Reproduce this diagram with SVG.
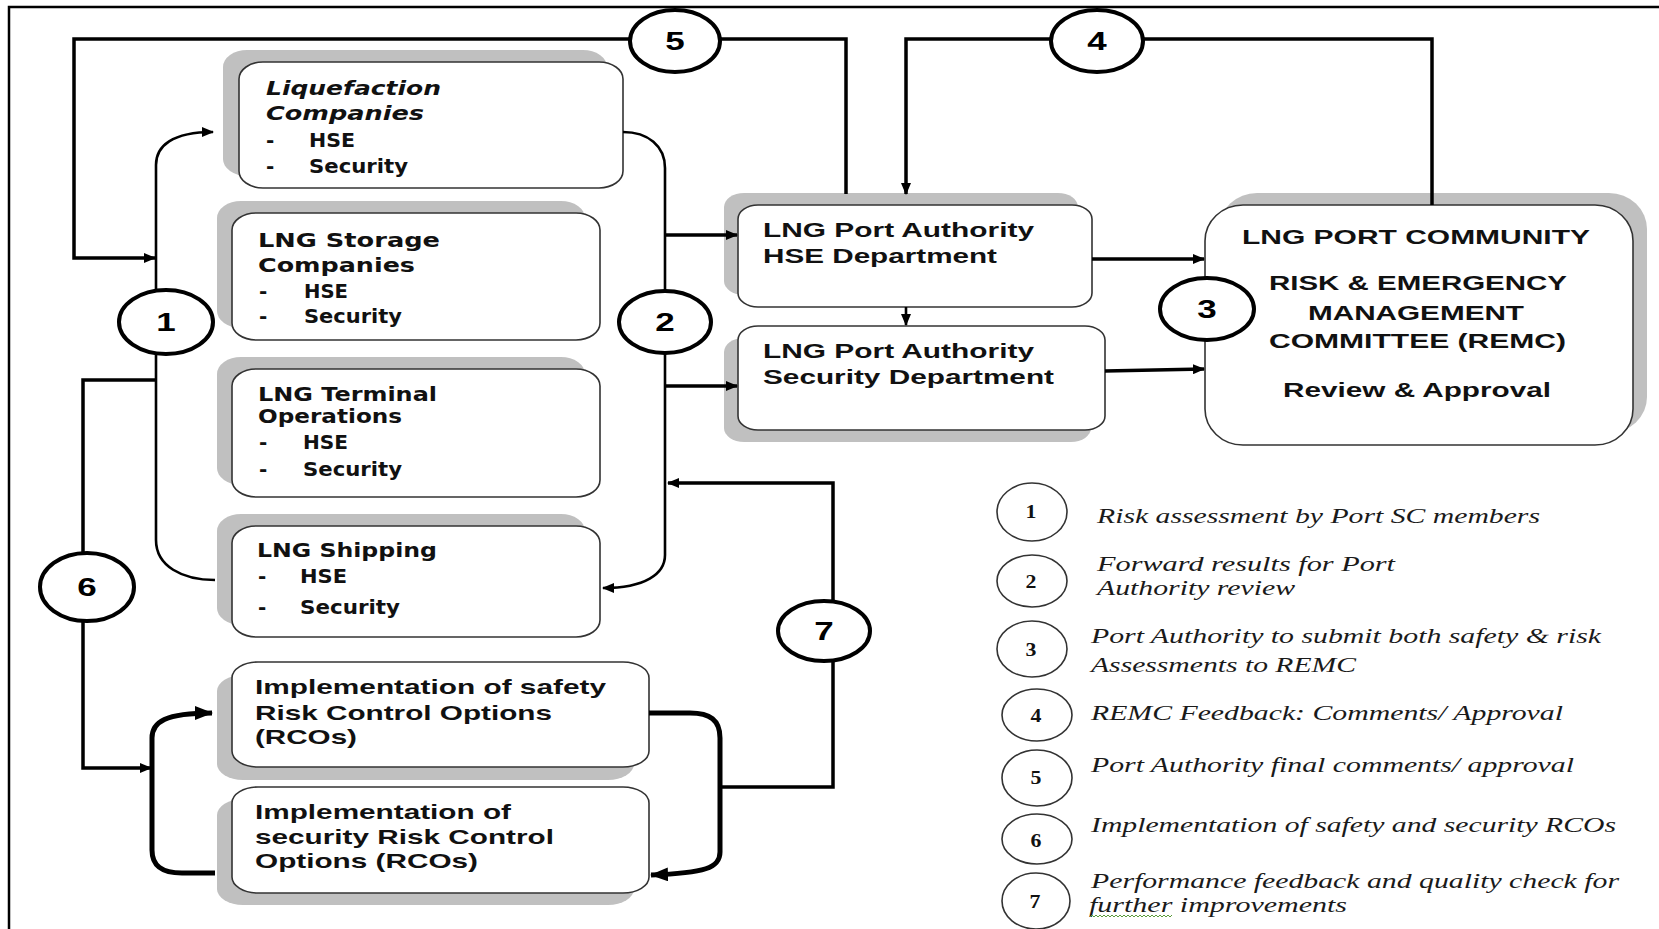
<svg xmlns="http://www.w3.org/2000/svg" width="1659" height="929" viewBox="0 0 1659 929">
  <style>
    .shadow { fill: #c0c0c0; }
    .box { fill: #ffffff; stroke: #333333; stroke-width: 1.6; }
    .verd { font-family: "DejaVu Sans", Verdana, sans-serif; font-weight: bold; font-size: 20px; fill: #111; }
    .verd-i { font-style: italic; }
    .ari { font-family: "Liberation Sans", Arial, sans-serif; font-weight: bold; font-size: 21px; fill: #111; }
    .num { font-family: "Liberation Sans", Arial, sans-serif; font-weight: bold; font-size: 25px; fill: #000; text-anchor: middle; }
    .badge { fill: #ffffff; stroke: #000; stroke-width: 4; }
    .line { fill: none; stroke: #000; stroke-width: 3.5; }
    .thin { fill: none; stroke: #000; stroke-width: 2.6; }
    .thick { fill: none; stroke: #000; stroke-width: 5; }
    .key-ring { fill: #ffffff; stroke: #333; stroke-width: 1.6; }
    .key-num { font-family: "Liberation Serif", "Times New Roman", serif; font-weight: bold; font-size: 19px; fill: #111; text-anchor: middle; }
    .key-txt { font-family: "Liberation Serif", "Times New Roman", serif; font-style: italic; font-size: 22px; fill: #1a1a1a; }
  </style>
  <defs>
    <marker id="ah" viewBox="0 0 12 10" refX="11" refY="5" markerWidth="12" markerHeight="10" markerUnits="userSpaceOnUse" orient="auto">
      <path d="M0,0 L12,5 L0,10 z" fill="#000"/>
    </marker>
    <marker id="ahBig" viewBox="0 0 18 14" refX="17" refY="7" markerWidth="18" markerHeight="14" markerUnits="userSpaceOnUse" orient="auto">
      <path d="M0,0 L18,7 L0,14 z" fill="#000"/>
    </marker>
  </defs>

  <rect width="1659" height="929" fill="#ffffff"/>
  <!-- page frame (top and left edges) -->
  <path d="M9,929 V7 H1659" fill="none" stroke="#000" stroke-width="2.5"/>

  <!-- stakeholder boxes -->
  <g id="liquefaction">
    <rect class="shadow" x="223" y="50" width="384" height="126" rx="24" ry="17"/>
    <rect class="box" x="239" y="62" width="384" height="126" rx="24" ry="17"/>
    <text class="verd verd-i" x="266" y="95" textLength="175" lengthAdjust="spacingAndGlyphs">Liquefaction</text>
    <text class="verd verd-i" x="266" y="120" textLength="158" lengthAdjust="spacingAndGlyphs">Companies</text>
    <text class="verd" x="266" y="147">-</text>
    <text class="verd" x="309" y="147" textLength="46" lengthAdjust="spacingAndGlyphs">HSE</text>
    <text class="verd" x="266" y="173">-</text>
    <text class="verd" x="309" y="173" textLength="99" lengthAdjust="spacingAndGlyphs">Security</text>
  </g>
  <g id="storage">
    <rect class="shadow" x="217" y="201" width="368" height="127" rx="24" ry="17"/>
    <rect class="box" x="232" y="213" width="368" height="127" rx="24" ry="17"/>
    <text class="verd" x="258" y="247" textLength="182" lengthAdjust="spacingAndGlyphs">LNG Storage</text>
    <text class="verd" x="258" y="272" textLength="157" lengthAdjust="spacingAndGlyphs">Companies</text>
    <text class="verd" x="259" y="298">-</text>
    <text class="verd" x="304" y="298" textLength="44" lengthAdjust="spacingAndGlyphs">HSE</text>
    <text class="verd" x="259" y="323">-</text>
    <text class="verd" x="304" y="323" textLength="98" lengthAdjust="spacingAndGlyphs">Security</text>
  </g>
  <g id="terminal">
    <rect class="shadow" x="217" y="357" width="368" height="128" rx="24" ry="17"/>
    <rect class="box" x="232" y="369" width="368" height="128" rx="24" ry="17"/>
    <text class="verd" x="258" y="401" textLength="179" lengthAdjust="spacingAndGlyphs">LNG Terminal</text>
    <text class="verd" x="258" y="423" textLength="144" lengthAdjust="spacingAndGlyphs">Operations</text>
    <text class="verd" x="259" y="449">-</text>
    <text class="verd" x="303" y="449" textLength="45" lengthAdjust="spacingAndGlyphs">HSE</text>
    <text class="verd" x="259" y="476">-</text>
    <text class="verd" x="303" y="476" textLength="99" lengthAdjust="spacingAndGlyphs">Security</text>
  </g>
  <g id="shipping">
    <rect class="shadow" x="217" y="514" width="368" height="111" rx="24" ry="17"/>
    <rect class="box" x="232" y="526" width="368" height="111" rx="24" ry="17"/>
    <text class="verd" x="257" y="557" textLength="180" lengthAdjust="spacingAndGlyphs">LNG Shipping</text>
    <text class="verd" x="258" y="583">-</text>
    <text class="verd" x="300" y="583" textLength="47" lengthAdjust="spacingAndGlyphs">HSE</text>
    <text class="verd" x="258" y="614">-</text>
    <text class="verd" x="300" y="614" textLength="100" lengthAdjust="spacingAndGlyphs">Security</text>
  </g>

  <!-- port authority departments -->
  <g id="pa-hse">
    <rect class="shadow" x="724" y="193" width="354" height="102" rx="20" ry="14"/>
    <rect class="box" x="738" y="205" width="354" height="102" rx="20" ry="14"/>
    <text class="ari" x="763" y="237" textLength="271" lengthAdjust="spacingAndGlyphs">LNG Port Authority</text>
    <text class="ari" x="763" y="263" textLength="234" lengthAdjust="spacingAndGlyphs">HSE Department</text>
  </g>
  <g id="pa-security">
    <rect class="shadow" x="724" y="338" width="367" height="104" rx="20" ry="14"/>
    <rect class="box" x="738" y="326" width="367" height="104" rx="20" ry="14"/>
    <text class="ari" x="763" y="358" textLength="271" lengthAdjust="spacingAndGlyphs">LNG Port Authority</text>
    <text class="ari" x="763" y="384" textLength="291" lengthAdjust="spacingAndGlyphs">Security Department</text>
  </g>

  <!-- committee -->
  <g id="remc">
    <rect class="shadow" x="1219" y="193" width="428" height="240" rx="38" ry="36"/>
    <rect class="box" x="1205" y="205" width="428" height="240" rx="38" ry="36"/>
    <text class="ari" x="1242" y="244" textLength="348" lengthAdjust="spacingAndGlyphs">LNG PORT COMMUNITY</text>
    <text class="ari" x="1269" y="290" textLength="298" lengthAdjust="spacingAndGlyphs">RISK &amp; EMERGENCY</text>
    <text class="ari" x="1308" y="320" textLength="216" lengthAdjust="spacingAndGlyphs">MANAGEMENT</text>
    <text class="ari" x="1269" y="348" textLength="297" lengthAdjust="spacingAndGlyphs">COMMITTEE (REMC)</text>
    <text class="ari" x="1283" y="397" textLength="268" lengthAdjust="spacingAndGlyphs">Review &amp; Approval</text>
  </g>

  <!-- implementation boxes -->
  <g id="impl-safety">
    <rect class="shadow" x="217" y="675" width="417" height="105" rx="26" ry="16"/>
    <rect class="box" x="232" y="662" width="417" height="105" rx="26" ry="16"/>
    <text class="ari" x="255" y="694" textLength="351" lengthAdjust="spacingAndGlyphs">Implementation of safety</text>
    <text class="ari" x="255" y="720" textLength="297" lengthAdjust="spacingAndGlyphs">Risk Control Options</text>
    <text class="ari" x="255" y="744" textLength="102" lengthAdjust="spacingAndGlyphs">(RCOs)</text>
  </g>
  <g id="impl-security">
    <rect class="shadow" x="217" y="799" width="417" height="106" rx="26" ry="16"/>
    <rect class="box" x="232" y="787" width="417" height="106" rx="26" ry="16"/>
    <text class="ari" x="255" y="819" textLength="256" lengthAdjust="spacingAndGlyphs">Implementation of</text>
    <text class="ari" x="255" y="844" textLength="299" lengthAdjust="spacingAndGlyphs">security Risk Control</text>
    <text class="ari" x="255" y="868" textLength="223" lengthAdjust="spacingAndGlyphs">Options (RCOs)</text>
  </g>

  <!-- connectors -->
  <g id="connectors">
    <path class="line" d="M846,194 V39 H74 V258 H155" marker-end="url(#ah)"/>
    <path class="line" d="M1432,205 V39 H906 V194" marker-end="url(#ah)"/>
    <path class="thin" d="M215,580 C182,580 156,566 156,540 V165 C156,146 172,132 213,132" marker-end="url(#ah)"/>
    <path class="line" d="M156,380 H83 V768 H151" marker-end="url(#ah)"/>
    <path class="thin" d="M623,132 C648,132 665,146 665,168 V555 C665,574 645,588 603,588" marker-end="url(#ah)"/>
    <path class="line" d="M665,235 H737" marker-end="url(#ah)"/>
    <path class="line" d="M665,386 H737" marker-end="url(#ah)"/>
    <path class="line" d="M1092,259 H1204" marker-end="url(#ah)"/>
    <path class="line" d="M1105,371 L1204,369" marker-end="url(#ah)"/>
    <path class="thin" d="M906,307 V325" marker-end="url(#ah)"/>
    <path class="line" d="M720,787 H833 V483 H668" marker-end="url(#ah)"/>
    <path class="thick" d="M649,713 H690 C710,713 720,720 720,738 V852 C720,868 705,873 651,875" marker-end="url(#ahBig)"/>
    <path class="thick" d="M215,873 H182 C162,873 152,866 152,850 V738 C152,722 165,713 212,713" marker-end="url(#ahBig)"/>
  </g>

  <!-- step badges on the connectors -->
  <g id="step-1"><ellipse class="badge" cx="166" cy="322" rx="47" ry="32"/><text class="num" transform="translate(166,331) scale(1.4,1)">1</text></g>
  <g id="step-2"><ellipse class="badge" cx="665" cy="322" rx="46" ry="31"/><text class="num" transform="translate(665,331) scale(1.4,1)">2</text></g>
  <g id="step-3"><ellipse class="badge" cx="1207" cy="309" rx="47" ry="31"/><text class="num" transform="translate(1207,318) scale(1.4,1)">3</text></g>
  <g id="step-4"><ellipse class="badge" cx="1097" cy="41" rx="46" ry="31"/><text class="num" transform="translate(1097,50) scale(1.4,1)">4</text></g>
  <g id="step-5"><ellipse class="badge" cx="675" cy="41" rx="45" ry="31"/><text class="num" transform="translate(675,50) scale(1.4,1)">5</text></g>
  <g id="step-6"><ellipse class="badge" cx="87" cy="587" rx="47" ry="34"/><text class="num" transform="translate(87,596) scale(1.4,1)">6</text></g>
  <g id="step-7"><ellipse class="badge" cx="824" cy="631" rx="46" ry="30"/><text class="num" transform="translate(824,640) scale(1.4,1)">7</text></g>

  <!-- key -->
  <g id="key">
    <ellipse class="key-ring" cx="1032" cy="512" rx="35" ry="29"/>
    <text class="key-num" transform="translate(1031,518) scale(1.15,1)">1</text>
    <text class="key-txt" x="1097" y="523" textLength="443" lengthAdjust="spacingAndGlyphs">Risk assessment by Port SC members</text>

    <ellipse class="key-ring" cx="1032" cy="581" rx="35" ry="26"/>
    <text class="key-num" transform="translate(1031,588) scale(1.15,1)">2</text>
    <text class="key-txt" x="1097" y="571" textLength="298" lengthAdjust="spacingAndGlyphs">Forward results for Port</text>
    <text class="key-txt" x="1097" y="595" textLength="198" lengthAdjust="spacingAndGlyphs">Authority review</text>

    <ellipse class="key-ring" cx="1032" cy="649" rx="35" ry="28"/>
    <text class="key-num" transform="translate(1031,656) scale(1.15,1)">3</text>
    <text class="key-txt" x="1091" y="643" textLength="510" lengthAdjust="spacingAndGlyphs">Port Authority to submit both safety &amp; risk</text>
    <text class="key-txt" x="1091" y="672" textLength="265" lengthAdjust="spacingAndGlyphs">Assessments to REMC</text>

    <ellipse class="key-ring" cx="1037" cy="715" rx="35" ry="26"/>
    <text class="key-num" transform="translate(1036,722) scale(1.15,1)">4</text>
    <text class="key-txt" x="1091" y="720" textLength="472" lengthAdjust="spacingAndGlyphs">REMC Feedback: Comments/ Approval</text>

    <ellipse class="key-ring" cx="1037" cy="778" rx="35" ry="28"/>
    <text class="key-num" transform="translate(1036,784) scale(1.15,1)">5</text>
    <text class="key-txt" x="1091" y="772" textLength="483" lengthAdjust="spacingAndGlyphs">Port Authority final comments/ approval</text>

    <ellipse class="key-ring" cx="1037" cy="839" rx="35" ry="25"/>
    <text class="key-num" transform="translate(1036,847) scale(1.15,1)">6</text>
    <text class="key-txt" x="1091" y="832" textLength="525" lengthAdjust="spacingAndGlyphs">Implementation of safety and security RCOs</text>

    <ellipse class="key-ring" cx="1036" cy="901" rx="34" ry="28"/>
    <text class="key-num" transform="translate(1035,908) scale(1.15,1)">7</text>
    <text class="key-txt" x="1091" y="888" textLength="528" lengthAdjust="spacingAndGlyphs">Performance feedback and quality check for</text>
    <text class="key-txt" x="1089" y="912" textLength="258" lengthAdjust="spacingAndGlyphs">further improvements</text>
    <!-- spell-check squiggle under "further" -->
    <path d="M1090,917 l2,-2 l2,2 l2,-2 l2,2 l2,-2 l2,2 l2,-2 l2,2 l2,-2 l2,2 l2,-2 l2,2 l2,-2 l2,2 l2,-2 l2,2 l2,-2 l2,2 l2,-2 l2,2 l2,-2 l2,2 l2,-2 l2,2 l2,-2 l2,2 l2,-2 l2,2 l2,-2 l2,2 l2,-2 l2,2 l2,-2 l2,2 l2,-2 l2,2 l2,-2 l2,2 l2,-2 l2,2 l2,-2" fill="none" stroke="#5a9a3a" stroke-width="1"/>
  </g>
</svg>
